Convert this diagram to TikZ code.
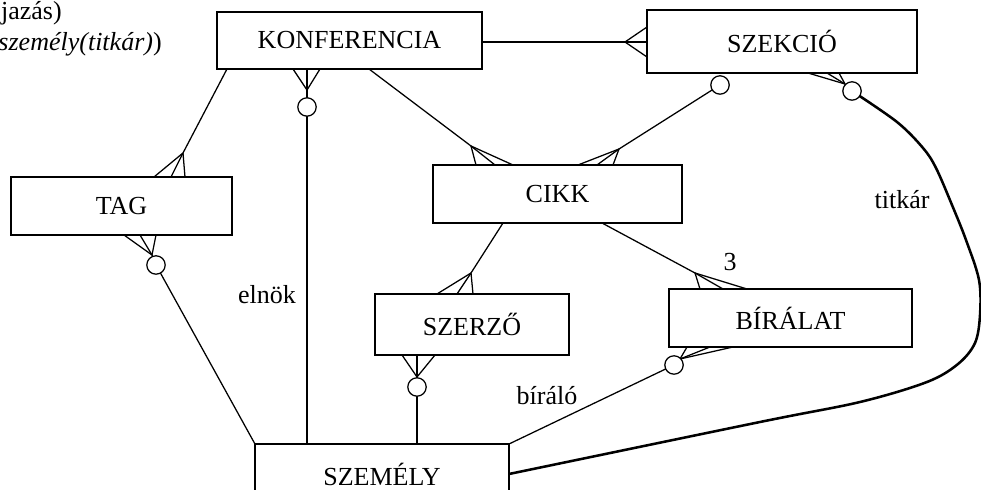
\documentclass[tikz,border=0pt]{standalone}
\usepackage{fontspec}
\setmainfont{Liberation Serif}
\tikzset{
  entity/.style={draw, line width=1.2pt, inner sep=0pt, outer sep=0pt,
    font=\fontsize{18.5}{22}\selectfont},
  rel/.style={line width=0.9pt},
  opt/.style={draw, line width=0.9pt, fill=white},
  titkarvonal/.style={line width=1.8pt, line join=round},
  lbl/.style={inner sep=0pt, font=\fontsize{18.5}{22}\selectfont}
}
\begin{document}
\begin{tikzpicture}[x=0.025cm, y=-0.025cm]
    \useasboundingbox (0,0) rectangle (981,490);

    % 1. Egyedek
    \node[entity, minimum width=6.625cm, minimum height=1.425cm] (konf) at (349.5,40.5) {KONFERENCIA};
    \node[entity, minimum width=6.75cm, minimum height=1.575cm] (szek) at (782,41.5) {SZEKCIÓ};
    \node[entity, minimum width=5.525cm, minimum height=1.45cm] (tag) at (121.5,206) {TAG};
    \node[entity, minimum width=6.225cm, minimum height=1.45cm] (cikk) at (557.5,194) {CIKK};
    \node[entity, minimum width=4.85cm, minimum height=1.525cm] (szerzo) at (472,324.5) {SZERZŐ};
    \node[entity, minimum width=6.075cm, minimum height=1.45cm] (biralat) at (790.5,318) {BÍRÁLAT};
    \node[entity, minimum width=6.35cm, minimum height=1.5cm] (szemely) at (382,474) {SZEMÉLY};

    % 2. Csatlakozási pontok (tyúkláb csúcsa, kör középpontja)
    \coordinate (k1) at (482,42);   \coordinate (a1) at (625,42);
    \coordinate (k2) at (227,69);   \coordinate (a2) at (183,153);
    \coordinate (a3) at (152,255);  \coordinate (c3) at (156,265);
    \coordinate (a4) at (307,90);   \coordinate (c4) at (307,107);
    \coordinate (k5) at (369,69);   \coordinate (a5) at (471,146);
    \coordinate (c6) at (720,85);   \coordinate (a6) at (619,149);
    \coordinate (a7) at (845,84);   \coordinate (c7) at (852,91);
    \coordinate (k8) at (602,223);  \coordinate (a8) at (695,273);
    \coordinate (k9) at (503,223);  \coordinate (a9) at (471,273);
    \coordinate (a10) at (417,377); \coordinate (c10) at (417,387);
    \coordinate (a11) at (680,359); \coordinate (c11) at (674,365);

    % 3. Kapcsolatok
    \draw[rel] (k1) -- (a1);
    \foreach \y in {27,42,57} \draw[rel] (a1) -- (647,\y);

    \draw[rel] (k2) -- (a2);
    \foreach \x in {154,171,185} \draw[rel] (a2) -- (\x,177);

    \foreach \x in {124,140,156} \draw[rel] (a3) -- (\x,235);
    \draw[rel] (a3) -- (c3) -- (szemely.north west);

    \foreach \x in {293,307,320} \draw[rel] (a4) -- (\x,69);
    \draw[rel] (a4) -- (c4) -- (c4 |- szemely.north);

    \draw[rel] (k5) -- (a5);
    \foreach \x in {476,495,513} \draw[rel] (a5) -- (\x,165);

    \draw[rel] (c6) -- (a6);
    \foreach \x in {578,597,613} \draw[rel] (a6) -- (\x,165);

    \foreach \x in {808,827,839} \draw[rel] (a7) -- (\x,73);
    \draw[titkarvonal] plot[smooth, tension=0.55] coordinates {(c7) (897,122) (923,148)
        (936,168) (952,205) (966,240) (979,280) (980,315) (975,343) (958,364)
        (927,382) (860,402) (760,422) (szemely.east)};

    \draw[rel] (k8) -- (a8);
    \foreach \x in {700,723,747} \draw[rel] (a8) -- (\x,289);

    \draw[rel] (k9) -- (a9);
    \foreach \x in {437,457,473} \draw[rel] (a9) -- (\x,294);

    \foreach \x in {402,417,435} \draw[rel] (a10) -- (\x,355);
    \draw[rel] (a10) -- (c10) -- (c10 |- szemely.north);

    \foreach \x in {687,710,733} \draw[rel] (a11) -- (\x,347);
    \draw[rel] (a11) -- (c11) -- (szemely.north east);

    % 4. Opcionalitás körei
    \foreach \c in {c3,c4,c6,c7,c10,c11} \draw[opt] (\c) circle (0.23cm);

    % 5. Feliratok
    \node[lbl] (elnok) at (267,295) {elnök};
    \node[lbl] (titkar) at (902,200) {titkár};
    \node[lbl] (harom) at (730,262) {3};
    \node[lbl] (biralo) at (547,396) {bíráló};
    \node[lbl, anchor=base east] (megj1) at (62,20) {jazás)};
    \node[lbl, anchor=base east] (megj2) at (162,51) {\textit{személy(titkár)})};
\end{tikzpicture}
\end{document}
